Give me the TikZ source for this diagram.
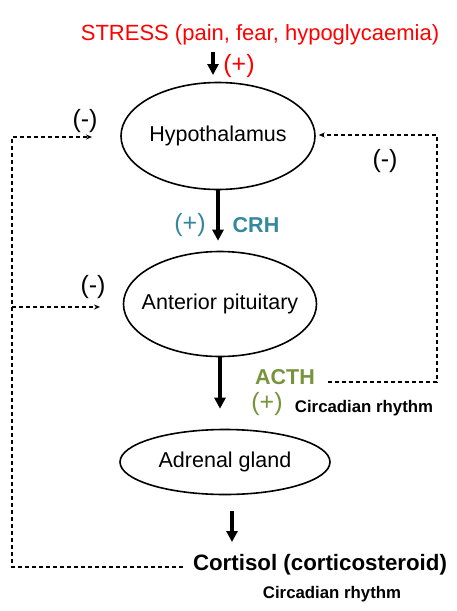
\documentclass[tikz,border=0pt]{standalone}
\usepackage{fontspec}
\setmainfont{Liberation Sans}
\usepackage{tikz}
\usetikzlibrary{shapes.geometric,arrows.meta}
\definecolor{stressred}{RGB}{255,0,0}
\definecolor{crhblue}{RGB}{52,135,158}
\definecolor{acthgreen}{RGB}{119,147,60}

\begin{document}
\begin{tikzpicture}
	 [x=1pt,y=-1pt,
	  organ/.style={ellipse,draw,line width=1.6pt,inner xsep=-14pt,inner ysep=0pt,font=\fontsize{21.5}{24}\selectfont},
	  lbl/.style={inner sep=1pt,font=\fontsize{21.5}{24}\selectfont},
	  sign/.style={inner sep=1pt,font=\fontsize{25}{27}\selectfont},
	  smalllbl/.style={inner sep=1pt,font=\bfseries\fontsize{16.8}{19}\selectfont},
	  bigarrow/.style={line width=3.2pt,-{Triangle[width=11pt,length=11pt]}},
	  feedback/.style={line width=1.2pt,dash pattern=on 4pt off 3pt,-{Stealth[length=6pt,width=5pt]}}]

  \useasboundingbox (0,0) rectangle (457,611);

  \node[organ,minimum width=194pt,minimum height=107pt] (hyp) at (218,136) {Hypothalamus};
    \node[organ,minimum width=193pt,minimum height=105pt] (ant) at (220,304) {Anterior pituitary};
    \node[organ,minimum width=210pt,minimum height=65pt] (adr) at (225,462) {Adrenal gland};

	 \node[lbl,text=stressred,font=\fontsize{22}{24}\selectfont] (stress) at (260,35) {STRESS (pain, fear, hypoglycaemia)};
    \node[sign,text=stressred] (stressplus) at (239,66) {(+)};
    \node[sign,text=crhblue] (crhplus) at (190,225) {(+)};
    \node[lbl,text=crhblue,font=\bfseries\fontsize{21.5}{24}\selectfont] (crh) at (256,225) {CRH};
    \node[lbl,text=acthgreen,font=\bfseries\fontsize{21.5}{24}\selectfont] (acth) at (285,377) {ACTH};
    \node[sign,text=acthgreen] (acthplus) at (267,404) {(+)};
    \node[smalllbl] (rhythm1) at (364,408) {Circadian rhythm};
    \node[lbl,font=\bfseries\fontsize{22.3}{24}\selectfont] (cort) at (320,565) {Cortisol (corticosteroid)};
    \node[smalllbl] (rhythm2) at (332,594) {Circadian rhythm};
    \node[sign] (minus1) at (85,121) {(-)};
    \node[sign] (minus2) at (93,287) {(-)};
    \node[sign] (minus3) at (385,161) {(-)};

    \coordinate (s1) at (213,52);
    \coordinate (s2) at (213,75);
    \coordinate (c1) at (232,511);
    \coordinate (c2) at (232,542);
    \coordinate (lft) at (12,137);
    \coordinate (hypin) at (92,137);
    \coordinate (mid) at (12,307);
    \coordinate (antin) at (100,307);
    \coordinate (rgt) at (437,135);

    % main axis
    \draw[bigarrow] (s1) -- (s2);
    \draw[bigarrow] (hyp.south) -- ([yshift=10pt]hyp.south |- ant.north);
    \draw[bigarrow] (ant.south) -- ([yshift=20pt]ant.south |- adr.north);
    \draw[bigarrow] (c1) -- (c2);

    % negative feedback
    \draw[feedback] ([xshift=-9pt,yshift=-2pt]cort.west) -| (lft) -- (hypin);
    \draw[feedback] (mid) -- (antin);
    \draw[feedback] ([xshift=12pt,yshift=-5pt]acth.east) -| (rgt) -- ([xshift=3pt]rgt -| hyp.east);

\end{tikzpicture}
\end{document}
